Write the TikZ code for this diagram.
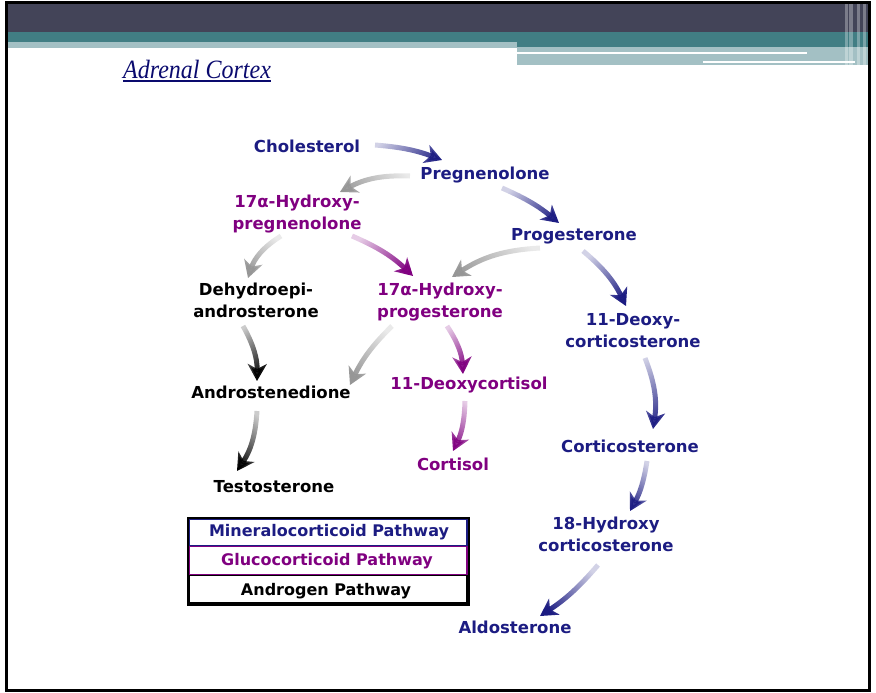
\documentclass[tikz,border=0pt]{standalone}
\usepackage{fontspec}
\usepackage{graphicx}
\setmainfont{DejaVu Sans}
\newfontfamily\headfont{Liberation Serif}
\usetikzlibrary{arrows.meta,fadings}

\definecolor{chemblue}{RGB}{28,28,130}
\definecolor{chempurple}{RGB}{128,0,128}
\definecolor{chemgray}{RGB}{150,150,150}
\definecolor{slatebar}{RGB}{67,68,88}
\definecolor{tealbar}{RGB}{65,126,132}
\definecolor{mistbar}{RGB}{163,192,196}
\definecolor{titleblue}{RGB}{10,10,110}

% arrows fade in from their tail to a solid head
\tikzfading[name=fadein, left color=transparent!80, right color=transparent!0]

\newcommand{\duoline}[2]{\begin{tabular}[t]{@{}c@{}}#1\\#2\end{tabular}}

\begin{document}
\begin{tikzpicture}[x=1pt,y=-1pt,
  compound/.style={inner sep=0pt, anchor=base,
    font=\fontsize{16.5}{22}\selectfont\bfseries},
  legendtext/.style={inner sep=0pt, anchor=base,
    font=\fontsize{16}{20}\selectfont\bfseries},
  flow/.style={line width=5pt, path fading=fadein,
    -{Stealth[length=17pt 0,width=19pt 0,inset=5pt 0]}}
]
\useasboundingbox (0,0) rectangle (876,693);

% slide header bars
\fill[slatebar] (6,3) rectangle (869,32);
\fill[tealbar] (6,32) rectangle (869,42);
\fill[tealbar] (517,42) rectangle (869,47);
\fill[mistbar] (6,42) rectangle (517,48);
\fill[mistbar] (517,47) rectangle (869,65);
\fill[white] (517,52) rectangle (807,54);
\fill[white] (703,61) rectangle (855,63);
\foreach \a/\b in {845/848, 849/853, 857/860, 863/866}
  \fill[white, opacity=0.3] (\a,3) rectangle (\b,65);

% slide frame
\draw[black, line width=3pt] (6,2.5) rectangle (869.5,690.5);

% title
\node[inner sep=0pt, anchor=base west, text=titleblue,
  font=\headfont\itshape\fontsize{24}{28}\selectfont] (title) at (123,78)
  {\scalebox{1}[1.1]{Adrenal Cortex}};
\draw[titleblue, line width=1.3pt] ([shift={(0,3)}]title.base west) -- ([shift={(0,3)}]title.base east);

% compounds
\node[compound, text=chemblue] (chol) at (307,152) {Cholesterol};
\node[compound, text=chemblue] (preg) at (485,179) {Pregnenolone};
\node[compound, text=chempurple] (ohpreg) at (297,207) {\duoline{17α-Hydroxy-}{pregnenolone}};
\node[compound, text=chemblue] (prog) at (574,240) {Progesterone};
\node[compound, text=black] (dhea) at (256,295) {\duoline{Dehydroepi-}{androsterone}};
\node[compound, text=chempurple] (ohprog) at (440,295) {\duoline{17α-Hydroxy-}{progesterone}};
\node[compound, text=chemblue] (doc) at (633,325) {\duoline{11-Deoxy-}{corticosterone}};
\node[compound, text=black] (andro) at (271,398) {Androstenedione};
\node[compound, text=chempurple] (dcort) at (469,389) {11-Deoxycortisol};
\node[compound, text=chempurple] (cortisol) at (453,470) {Cortisol};
\node[compound, text=chemblue] (cortico) at (630,452) {Corticosterone};
\node[compound, text=black] (testo) at (274,492) {Testosterone};
\node[compound, text=chemblue] (ohcort) at (606,529) {\duoline{18-Hydroxy}{corticosterone}};
\node[compound, text=chemblue] (aldo) at (515,633) {Aldosterone};

% conversions
\draw[flow, chemblue, fading angle=-12.6]
  ([shift={(68,-7)}]chol.base) to[bend left=8] ([shift={(-43,-19)}]preg.base);
\draw[flow, chemgray, fading angle=-167]
  ([shift={(-75,-3)}]preg.base) to[bend right=15] ([shift={(43,-15)}]ohpreg.base);
\draw[flow, chemblue, fading angle=-31.5]
  ([shift={(17,9)}]preg.base) to[bend left=8] ([shift={(-15,-17)}]prog.base);
\draw[flow, chempurple, fading angle=-33.3]
  ([shift={(55,29)}]ohpreg.base) to[bend left=10] ([shift={(-27,-19)}]ohprog.base);
\draw[flow, chemgray, fading angle=-128.2]
  ([shift={(-16,29)}]ohpreg.base) to[bend right=20] ([shift={(-8,-17)}]dhea.base);
\draw[flow, chemgray, fading angle=-161.8]
  ([shift={(-34,8)}]prog.base) to[bend right=15] ([shift={(12,-18)}]ohprog.base);
\draw[flow, chemblue, fading angle=-52]
  ([shift={(9,11)}]prog.base) to[bend left=12] ([shift={(-7,-19)}]doc.base);
\draw[flow, black, fading angle=-75.7]
  ([shift={(-13,31)}]dhea.base) to[bend left=15] ([shift={(-14,-17)}]andro.base);
\draw[flow, chemgray, fading angle=-125.4]
  ([shift={(-48,31)}]ohprog.base) to[bend right=10] ([shift={(79,-13)}]andro.base);
\draw[flow, chempurple, fading angle=-71.6]
  ([shift={(7,31)}]ohprog.base) to[bend left=15] ([shift={(-6,-15)}]dcort.base);
\draw[flow, black, fading angle=-108.4]
  ([shift={(-14,13)}]andro.base) to[bend left=15] ([shift={(-37,-21)}]testo.base);
\draw[flow, chempurple, fading angle=-103.5]
  ([shift={(-4,12)}]dcort.base) to[bend left=12] ([shift={(0,-19)}]cortisol.base);
\draw[flow, chemblue, fading angle=-83.6]
  ([shift={(12,33)}]doc.base) to[bend left=15] ([shift={(23,-23)}]cortico.base);
\draw[flow, chemblue, fading angle=-108.8]
  ([shift={(17,9)}]cortico.base) to[bend left=10] ([shift={(24,-18)}]ohcort.base);
\draw[flow, chemblue, fading angle=-138.7]
  ([shift={(-8,36)}]ohcort.base) to[bend left=8] ([shift={(25,-17)}]aldo.base);

% legend
\draw[chemblue, line width=1.5pt] (189,519.5) rectangle (467,545.5);
\draw[chempurple, line width=1.5pt] (189,546.5) rectangle (467,574.5);
\draw[black, line width=1.5pt] (189,575.5) rectangle (467,603);
\draw[black, line width=2pt] (187.5,518) rectangle (468.5,605);
\node[legendtext, text=chemblue] (lgmin) at (329,536) {Mineralocorticoid Pathway};
\node[legendtext, text=chempurple] (lgglu) at (327,565) {Glucocorticoid Pathway};
\node[legendtext, text=black] (lgand) at (326,595) {Androgen Pathway};
\end{tikzpicture}
\end{document}
